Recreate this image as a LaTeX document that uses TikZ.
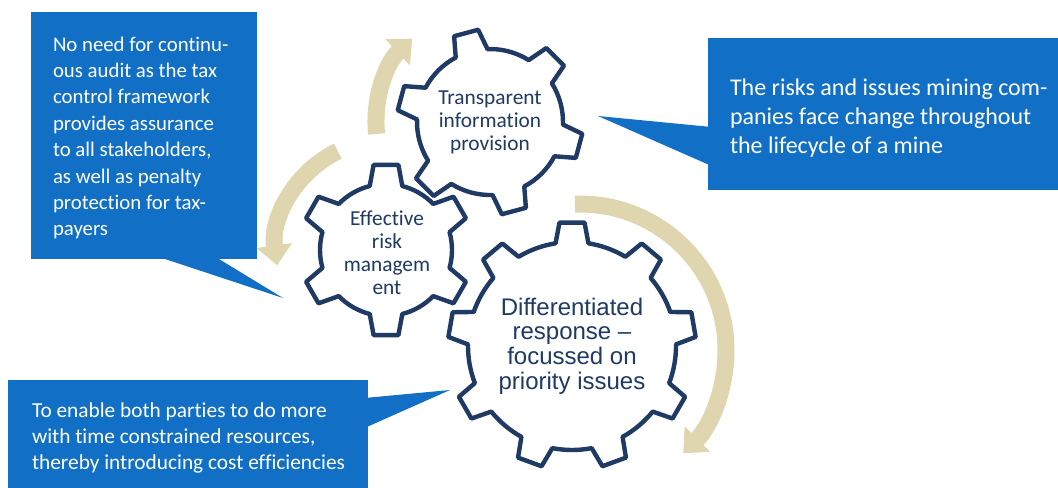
\documentclass[tikz,border=0pt]{standalone}
\usepackage{xcolor}
\usepackage{fontspec}
\setmainfont{Carlito}[Ligatures = {TeX, NoCommon}]
\newfontfamily\arialfont{Liberation Sans}
\usepackage{tikz}
\usetikzlibrary{arrows.meta,calc,positioning}

\definecolor{calloutblue}{RGB}{17,112,198}
\definecolor{gearnavy}{RGB}{31,58,100}
\definecolor{arrowtan}{RGB}{223,214,176}

\begin{document}
\begin{tikzpicture}[
				x = 0.75pt, y = 0.75pt,
				callout/.style = {fill = calloutblue, inner sep = 0pt},
				callouttext/.style = {text = white, align = left, inner sep = 0pt, anchor = west, font = \fontsize{15.6}{19.8}\selectfont},
				gear/.style = {draw = gearnavy, line width = 3.3pt, line join = round, fill = white},
				gearlabel/.style = {text = gearnavy, align = center, inner sep = 0pt, font = \fontsize{16}{17.2}\selectfont},
				turn/.style = {draw = arrowtan, line width = 12.75pt, -{Triangle[width = 26pt, length = 15pt]}}
			]

			\path[use as bounding box] (0,0) rectangle (1058,-487);
			\clip (0,0) rectangle (1058,-487);

			\node[callout, minimum width = 169.5pt, minimum height = 185.25pt] (audit) at (144,-135.5) {};
			\node[callout, minimum width = 300pt, minimum height = 114pt] (mining) at (908,-114) {};
			\node[callout, minimum width = 270pt, minimum height = 85.5pt] (cost) at (188,-437) {};

			\coordinate (auditTip) at (283,-298);
			\coordinate (miningTip) at (598,-116);
			\coordinate (costTip) at (450,-390);

			\fill[calloutblue] ($(audit.south west)+(132,1)$) -- (auditTip) -- ($(audit.south west)+(187,1)$) -- cycle;
			\fill[calloutblue] ($(mining.north west)+(1,-89)$) -- (miningTip) -- ($(mining.north west)+(1,-127)$) -- cycle;
			\fill[calloutblue] ($(cost.north east)+(-1,-18)$) -- (costTip) -- ($(cost.north east)+(-1,-47)$) -- cycle;

			\node[callouttext] (auditText) at ($(audit.west)+(22,-2.5)$)
				{No need for continu-\\ous audit as the tax\\control framework\\provides assurance\\to all stakeholders,\\as well as penalty\\protection for tax-\\payers};
			\node[callouttext, font = \fontsize{18}{21.9}\selectfont] (miningText) at ($(mining.west)+(22,-4)$)
				{The risks and issues mining com-\\panies face change throughout\\the lifecycle of a mine};
			\node[callouttext, font = \fontsize{16}{19.5}\selectfont] (costText) at ($(cost.west)+(24,-1)$)
				{To enable both parties to do more\\with time constrained resources,\\thereby introducing cost efficiencies};

			\begin{scope}[shift = {(386,-250)}]
				\draw[gear] (15.7:66) \foreach \t in {30,90,...,330} {
						-- ({\t-14.3}:66) -- ({\t-8.3}:86) -- ({\t+8.3}:86) -- ({\t+14.3}:66)
						arc[start angle = {\t+14.3}, end angle = {\t+45.7}, radius = 66]
					} -- cycle;
			\end{scope}
			\begin{scope}[shift = {(490,-122)}]
				\draw[gear] (92:73) \foreach \t in {105,165,...,405} {
						-- ({\t-13}:73) -- ({\t-7.7}:93) -- ({\t+7.7}:93) -- ({\t+13}:73)
						arc[start angle = {\t+13}, end angle = {\t+47}, radius = 73]
					} -- cycle;
			\end{scope}
			\begin{scope}[shift = {(572,-346)}]
				\draw[gear] (80.9:104) \foreach \t in {90,130,...,410} {
						-- ({\t-9.1}:104) -- ({\t-5.8}:124) -- ({\t+5.8}:124) -- ({\t+9.1}:104)
						arc[start angle = {\t+9.1}, end angle = {\t+30.9}, radius = 104]
					} -- cycle;
			\end{scope}

			\node[gearlabel] (transparent) at (490,-122) {Transparent\\information\\provision};
			\node[gearlabel] (effective) at (387,-253) {Effective\\risk\\managem\\ent};
			\node[gearlabel, font = \arialfont\fontsize{18}{18.4}\selectfont] (differentiated) at (572,-346)
				{Differentiated\\response –\\focussed on\\priority issues};

			\coordinate (spin) at (580,-350);
			\draw[turn] ($(transparent)+(186:114)$) arc[start angle = 186, end angle = 133, radius = 114];
			\draw[turn] ($(effective)+(-1,3)+(116:110)$) arc[start angle = 116, end angle = 188, radius = 110];
			\draw[turn] ($(spin)+(92:146)$) arc[start angle = 92, end angle = -45, radius = 146];

			\end{tikzpicture}
\end{document}
